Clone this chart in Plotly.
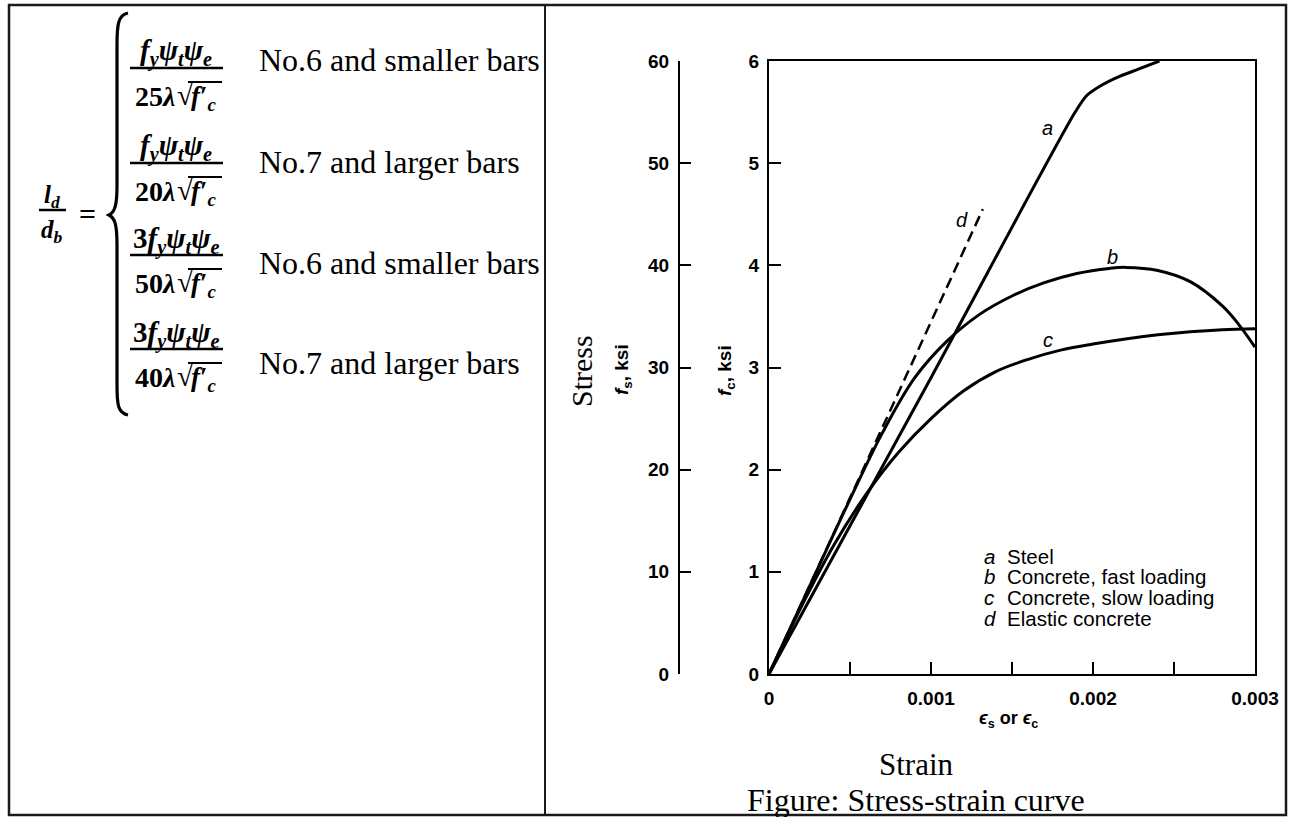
import plotly.graph_objects as go

W, H = 1291, 817

# ---------------- data ----------------
strain_a = [0, 0.0010, 0.00189, 0.00196, 0.00205, 0.00215, 0.00228, 0.00241]
stress_a_ksi = [0, 29.0, 55.0, 56.6, 57.6, 58.4, 59.2, 60.0]

strain_b = [0, 0.0003, 0.0005, 0.0007, 0.0009, 0.0011, 0.0013, 0.0015, 0.0017,
            0.0019, 0.0021, 0.0022, 0.0024, 0.0026, 0.0028, 0.0029, 0.003]
stress_b = [0, 1.03, 1.71, 2.36, 2.90, 3.26, 3.52, 3.70, 3.83,
            3.92, 3.97, 3.98, 3.95, 3.84, 3.60, 3.42, 3.20]

strain_c = [0, 0.0002, 0.0004, 0.0006, 0.0008, 0.001, 0.0012, 0.0014, 0.0016,
            0.0018, 0.002, 0.0022, 0.0024, 0.0026, 0.0028, 0.003]
stress_c = [0, 0.66, 1.26, 1.76, 2.17, 2.50, 2.77, 2.96, 3.08,
            3.17, 3.23, 3.28, 3.32, 3.35, 3.37, 3.38]

strain_d = [0, 0.00132]
stress_d = [0, 4.55]

x_tickvals = [0, 0.0005, 0.001, 0.0015, 0.002, 0.0025, 0.003]
x_ticktext = ["0", "", "0.001", "", "0.002", "", "0.003"]
fc_ticks = [0, 1, 2, 3, 4, 5, 6]
fs_ticks = [0, 10, 20, 30, 40, 50, 60]

curve_letters = ["a", "b", "c", "d"]
curve_label_x = [0.00172, 0.00212, 0.00172, 0.00119]
curve_label_y = [5.34, 4.08, 3.27, 4.44]
legend_names = ["Steel", "Concrete, fast loading", "Concrete, slow loading", "Elastic concrete"]

rule_labels = ["No.6 and smaller bars", "No.7 and larger bars",
               "No.6 and smaller bars", "No.7 and larger bars"]
coef_prefix = ["", "", "3", "3"]
denom_const = ["25", "20", "50", "40"]


def px(x):
    return x / W


def py(y):
    return 1 - y / H


SERIF = "Liberation Serif, Times New Roman, serif"
SANS = "Liberation Sans, Arial, sans-serif"

ann = []


def A(x, y, text, size, family, xanchor="center", yanchor="middle", angle=0):
    ann.append(dict(x=px(x), y=py(y), xref="paper", yref="paper", text=text,
                    xanchor=xanchor, yanchor=yanchor, textangle=angle,
                    showarrow=False, font=dict(family=family, size=size, color="black")))


fig = go.Figure()

fig.add_trace(go.Scatter(x=strain_d, y=stress_d, mode="lines",
                         line=dict(color="black", width=2.5, dash="11px,6px"),
                         xaxis="x", yaxis="y", hoverinfo="skip"))
fig.add_trace(go.Scatter(x=strain_b, y=stress_b, mode="lines", line_shape="spline",
                         line=dict(color="black", width=3), xaxis="x", yaxis="y"))
fig.add_trace(go.Scatter(x=strain_c, y=stress_c, mode="lines", line_shape="spline",
                         line=dict(color="black", width=3), xaxis="x", yaxis="y"))
fig.add_trace(go.Scatter(x=strain_a, y=stress_a_ksi, mode="lines", line_shape="spline",
                         line=dict(color="black", width=3, smoothing=0.8),
                         xaxis="x", yaxis="y2"))

x0, x1 = 769, 1255
y_top, y_bot = 61, 674
axis_common = dict(showgrid=False, zeroline=False, showline=True, linecolor="black",
                   linewidth=2, ticks="inside", tickcolor="black", tickwidth=1.6,
                   tickfont=dict(family=SANS, size=19, color="black", weight="bold"))

fig.update_layout(
    width=W, height=H, margin=dict(l=0, r=0, t=0, b=0, autoexpand=False),
    paper_bgcolor="white", plot_bgcolor="white", showlegend=False,
    xaxis=dict(domain=[px(x0), px(x1)], range=[0, 0.003], tickvals=x_tickvals,
               ticktext=x_ticktext, ticklen=12, mirror=True, ticklabelstandoff=6,
               anchor="y", **axis_common),
    yaxis=dict(domain=[py(y_bot), py(y_top)], range=[0, 6], tickvals=fc_ticks,
               ticklen=12, mirror=True, ticklabelstandoff=4, anchor="x", **axis_common),
    yaxis2=dict(domain=[py(y_bot), py(y_top)], range=[0, 60], tickvals=fs_ticks,
                ticklen=11, overlaying="y", anchor="free", position=px(679), side="left",
                ticklabelstandoff=5, **axis_common),
)

# curve letters (data coordinates)
for t, xv, yv in zip(curve_letters, curve_label_x, curve_label_y):
    ann.append(dict(x=xv, y=yv, xref="x", yref="y", text="<i>%s</i>" % t, showarrow=False,
                    xanchor="center", yanchor="middle",
                    font=dict(family=SANS, size=20, color="black")))
# legend block
leg_y = [556, 576, 597, 618]
for t, name, yy in zip(curve_letters, legend_names, leg_y):
    A(982, yy, "<i>%s</i>" % t, 20.5, SANS, xanchor="left")
    A(1005, yy, name, 20.5, SANS, xanchor="left")

# axis titles
A(581, 371, "Stress", 30, SERIF, angle=-90)
A(623, 370, "<b><i>f</i><sub>s</sub>, ksi</b>", 19, SANS, angle=-90)
A(726, 370, "<b><i>f</i><sub>c</sub>, ksi</b>", 19, SANS, angle=-90)
A(1008, 719, "<b><i>ϵ</i><sub>s</sub> or <i>ϵ</i><sub>c</sub></b>", 18, SANS)
A(916, 764, "Strain", 31, SERIF)
A(916, 800, "Figure: Stress-strain curve", 32, SERIF)

shapes = []
shapes.append(dict(type="rect", xref="paper", yref="paper", x0=px(9), x1=px(1286),
                   y0=py(815), y1=py(5), line=dict(color="#1a1a1a", width=2.5)))
shapes.append(dict(type="line", xref="paper", yref="paper", x0=px(545), x1=px(545),
                   y0=py(815), y1=py(5), line=dict(color="#1a1a1a", width=2)))

# ---- formula: l_d / d_b = { ...
A(52, 197, "<b><i>l</i><sub><i>d</i></sub></b>", 25, SERIF)
A(52, 231, "<b><i>d</i><sub><i>b</i></sub></b>", 25, SERIF)
shapes.append(dict(type="line", xref="paper", yref="paper", x0=px(39), x1=px(66),
                   y0=py(210), y1=py(210), line=dict(color="black", width=2.5)))
A(87, 213, "<b>=</b>", 30, SERIF)

pts = [(128, 13), (118, 15), (117, 25), (117, 45), (117, 185), (117, 205), (115, 212),
       (109, 215), (115, 218), (117, 225), (117, 245), (117, 385), (117, 405), (118, 413),
       (128, 415)]
P = ["%.5f,%.5f" % (px(a), py(b)) for a, b in pts]
brace = ("M " + P[0] + " C " + P[1] + " " + P[2] + " " + P[3] + " L " + P[4] +
         " C " + P[5] + " " + P[6] + " " + P[7] + " C " + P[8] + " " + P[9] + " " + P[10] +
         " L " + P[11] + " C " + P[12] + " " + P[13] + " " + P[14])
shapes.append(dict(type="path", xref="paper", yref="paper", path=brace,
                   line=dict(color="black", width=3.2)))

bars_y = [68, 163, 255, 349]
text_y = [60, 162, 263, 363]
for pre, dc, by, lab, ty in zip(coef_prefix, denom_const, bars_y, rule_labels, text_y):
    A(176, by - 15,
      "<b>%s<i>f</i><sub><i>y</i></sub><i>ψ</i><sub><i>t</i></sub><i>ψ</i><sub><i>e</i></sub></b>" % pre,
      29, SERIF)
    shapes.append(dict(type="line", xref="paper", yref="paper", x0=px(130), x1=px(223),
                       y0=py(by), y1=py(by), line=dict(color="black", width=2.5)))
    A(177, by + 28, "<b>%s<i>λ</i></b>" % dc, 28, SERIF, xanchor="right")
    A(175, by + 27, "<b>√</b>", 29, SERIF, xanchor="left")
    shapes.append(dict(type="line", xref="paper", yref="paper", x0=px(188), x1=px(222),
                       y0=py(by + 14), y1=py(by + 14), line=dict(color="black", width=1.8)))
    A(189, by + 30, "<b><i>f</i>′<sub><i>c</i></sub></b>", 27, SERIF, xanchor="left")
    A(257, ty, lab, 32, SERIF, xanchor="left")

fig.update_layout(annotations=ann, shapes=shapes)
fig.write_html("out.html", config={"displayModeBar": False},
               post_script="document.body.style.margin='0';document.body.style.overflow='hidden';")
